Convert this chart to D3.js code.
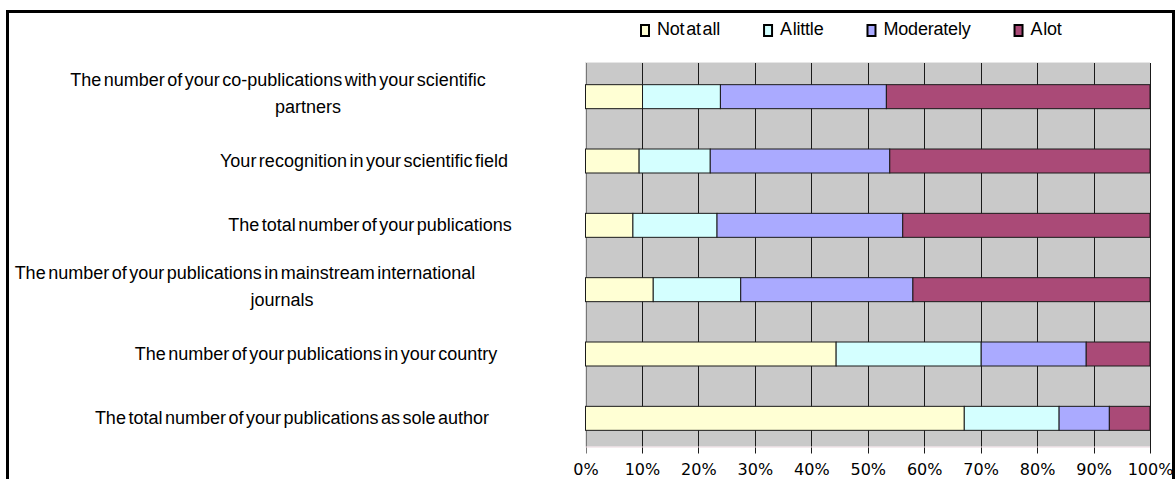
<!DOCTYPE html>
<html>
<head>
<meta charset="utf-8">
<script src="https://cdn.jsdelivr.net/npm/d3@7"></script>
<style>
  html, body { margin: 0; padding: 0; background: #fff; }
  svg { display: block; }
  .cat { font-family: "Liberation Sans", Arial, sans-serif; font-size: 18px; word-spacing: -2.5px; fill: #000; }
  .leg { font-family: "Liberation Sans", Arial, sans-serif; font-size: 18px; word-spacing: -3px; letter-spacing: -0.2px; fill: #000; }
  .tick text { font-family: "DejaVu Sans", Verdana, sans-serif; font-size: 16px; fill: #000; }
</style>
</head>
<body>
<svg id="chart" width="1176" height="479"></svg>
<script>
// ---- data ----
const categories = [
  "The number of your co-publications with your scientific\npartners",
  "Your recognition in your scientific field",
  "The total number of your publications",
  "The number of your publications in mainstream international\njournals",
  "The number of your publications in your country",
  "The total number of your publications as sole author"
];
const seriesNames = ["Not at all", "A little", "Moderately", "A lot"];
const notAtAll   = [10.1,  9.5,  8.4, 12.0, 44.4, 67.1];
const aLittle    = [13.8, 12.6, 14.9, 15.5, 25.7, 16.8];
const moderately = [29.4, 31.8, 32.9, 30.5, 18.6,  8.9];
const aLot       = [46.7, 46.1, 43.8, 42.0, 11.3,  7.2];
const tickValues = [0, 10, 20, 30, 40, 50, 60, 70, 80, 90, 100];
const colors = ["#ffffd4", "#d4ffff", "#aaaaff", "#aa4a77"];

// ---- layout ----
// horizontal centre of each label line (layout only)
const labelLineCenters = [[278, 308], [364], [370], [245, 282], [316], [292]];

const svg = d3.select("#chart");
const plotL = 585.5, plotR = 1150, plotT = 62, plotB = 446.5;

// outer frame
svg.append("rect")
  .attr("x", 7.5).attr("y", 11.5)
  .attr("width", 1166).attr("height", 500)
  .attr("fill", "none").attr("stroke", "#000").attr("stroke-width", 3);

const x = d3.scaleLinear().domain([0, 100]).range([plotL, plotR]);
const y = d3.scaleBand().domain(d3.range(categories.length)).range([64.5, 450.5]).padding(0);
const barH = y.step() * 0.373;

// plot background
svg.append("rect")
  .attr("x", plotL).attr("y", plotT)
  .attr("width", plotR - plotL).attr("height", plotB - plotT)
  .attr("fill", "#c9c9c9");
svg.append("line")
  .attr("x1", plotL).attr("x2", plotR).attr("y1", plotT + 0.5).attr("y2", plotT + 0.5)
  .attr("stroke", "#e6e6e6").attr("stroke-width", 1);

// vertical gridlines (extend down as tick marks)
svg.append("g").selectAll("line")
  .data(tickValues)
  .join("line")
  .attr("x1", d => Math.round(x(d)) + 0.5)
  .attr("x2", d => Math.round(x(d)) + 0.5)
  .attr("y1", plotT + 1).attr("y2", plotB + 7)
  .attr("stroke", d => (d === 0 ? "#777" : "#1a1a1a"))
  .attr("stroke-width", 1);

// faint axis line
svg.append("line")
  .attr("x1", plotL).attr("x2", plotR).attr("y1", plotB + 0.5).attr("y2", plotB + 0.5)
  .attr("stroke", "#ead7de").attr("stroke-width", 1);

// stacked data
const table = categories.map((c, i) => ({
  i, vals: [notAtAll[i], aLittle[i], moderately[i], aLot[i]]
}));
const stack = d3.stack().keys([0, 1, 2, 3]).value((d, k) => d.vals[k]);
const stacked = stack(table);

svg.append("g").selectAll("g")
  .data(stacked)
  .join("g")
  .attr("fill", (d, k) => colors[k])
  .selectAll("rect")
  .data(d => d)
  .join("rect")
  .attr("x", d => x(d[0]))
  .attr("width", d => x(d[1]) - x(d[0]))
  .attr("y", d => y(d.data.i) + y.step() / 2 - barH / 2)
  .attr("height", barH)
  .attr("stroke", "#1a1a1a").attr("stroke-width", 1);

// x axis labels
const xAxis = d3.axisBottom(x).tickValues(tickValues).tickFormat(d => d + "%").tickSize(0).tickPadding(0);
const gx = svg.append("g")
  .attr("transform", `translate(0, ${plotB})`)
  .call(xAxis);
gx.select(".domain").remove();
gx.selectAll(".tick text").attr("y", 28.5).attr("dy", null);
gx.attr("font-family", null).attr("font-size", null);

// category labels
const lineGap = 27;
categories.forEach((c, i) => {
  const lines = c.split("\n");
  const cy = y(i) + y.step() / 2;
  const shift = lines.length > 1 ? -3.5 : 0;
  lines.forEach((ln, j) => {
    svg.append("text")
      .attr("class", "cat")
      .attr("x", labelLineCenters[i][j])
      .attr("y", cy + (j - (lines.length - 1) / 2) * lineGap + shift)
      .attr("dominant-baseline", "central")
      .attr("text-anchor", "middle")
      .text(ln);
  });
});

// legend
let lx = 640;
const legY = 24;
seriesNames.forEach((name, k) => {
  svg.append("rect")
    .attr("x", lx + 1).attr("y", legY + 1)
    .attr("width", 8).attr("height", 11)
    .attr("fill", colors[k]).attr("stroke", "#000").attr("stroke-width", 2);
  const t = svg.append("text")
    .attr("class", "leg")
    .attr("x", lx + 17).attr("y", 35)
    .text(name);
  lx = lx + 17 + t.node().getComputedTextLength() + 43;
});
</script>
</body>
</html>
